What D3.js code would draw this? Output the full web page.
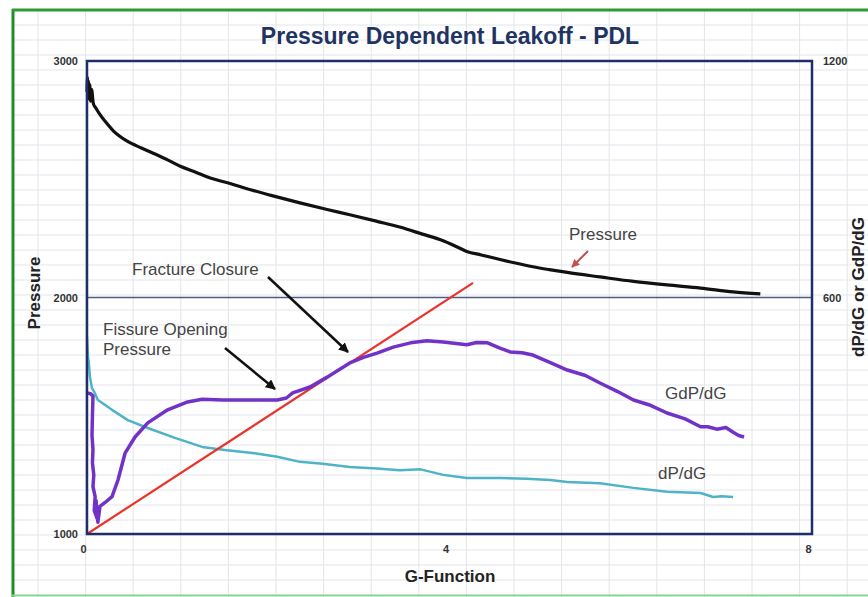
<!DOCTYPE html>
<html>
<head>
<meta charset="utf-8">
<script src="https://cdn.jsdelivr.net/npm/d3@7"></script>
<style>
  body { margin: 0; background: #fff; }
  svg { display: block; font-family: "Liberation Sans", Arial, sans-serif; }
</style>
</head>
<body>
<svg width="868" height="597"></svg>
<script>
// axis ticks
var xTicks = [0, 4, 8];
var leftTicks = [1000, 2000, 3000];
var rightTicks = [600, 1200];

// Pressure (left axis) vs G-function
var pressureG = [0, 0.005, 0.01, 0.015, 0.02, 0.03, 0.04, 0.05, 0.07, 0.1, 0.14, 0.2, 0.29, 0.44, 0.6, 0.73, 0.9, 1.03, 1.2, 1.36, 1.55, 1.72, 2.02, 2.35, 2.65, 2.9, 3.2, 3.45, 3.7, 3.93, 4.05, 4.19, 4.35, 4.48, 4.7, 4.92, 5.1, 5.3, 5.66, 6.03, 6.4, 6.77, 7.13, 7.43];
var pressureP = [2870, 2930, 2850, 2915, 2840, 2900, 2830, 2880, 2820, 2800, 2775, 2745, 2705, 2662, 2632, 2610, 2580, 2555, 2530, 2505, 2485, 2465, 2433, 2400, 2372, 2350, 2322, 2298, 2268, 2240, 2220, 2195, 2180, 2168, 2148, 2130, 2118, 2106, 2087, 2068, 2053, 2040, 2024, 2015];

// G*dP/dG (right axis)
var gdpG = [0, 0.04, 0.066, 0.06, 0.055, 0.066, 0.06, 0.075, 0.066, 0.09, 0.08, 0.11, 0.1, 0.12, 0.143, 0.2, 0.276, 0.342, 0.42, 0.53, 0.67, 0.89, 1.11, 1.27, 1.5, 1.85, 2.1, 2.2, 2.27, 2.46, 2.65, 2.9, 3.05, 3.2, 3.38, 3.57, 3.75, 3.93, 4.05, 4.19, 4.3, 4.42, 4.55, 4.67, 4.8, 4.92, 5.1, 5.3, 5.5, 5.66, 5.85, 6.03, 6.2, 6.4, 6.6, 6.77, 6.85, 6.95, 7.05, 7.13, 7.19, 7.25];
var gdpV = [358, 356, 350, 300, 250, 215, 180, 150, 120, 95, 60, 40, 85, 30, 70, 80, 95, 137, 205, 246, 282, 315, 335, 342, 340, 340, 340, 345, 358, 373, 398, 434, 448, 459, 474, 485, 490, 487, 484, 480, 486, 485, 472, 462, 460, 454, 436, 416, 402, 383, 362, 340, 328, 307, 292, 272, 272, 266, 270, 258, 250, 246];

// dP/dG (right axis)
var dpG = [0, 0.011, 0.022, 0.033, 0.055, 0.08, 0.12, 0.276, 0.45, 0.67, 0.97, 1.27, 1.52, 1.85, 2.1, 2.35, 2.6, 2.9, 3.2, 3.45, 3.68, 3.93, 4.19, 4.56, 4.85, 5.11, 5.3, 5.66, 6.03, 6.4, 6.77, 6.91, 7.0, 7.13];
var dpV = [500, 449, 430, 398, 370, 360, 340, 315, 289, 269, 244, 221, 213, 205, 196, 183, 178, 170, 166, 162, 164, 150, 142, 142, 140, 137, 132, 129, 117, 107, 104, 94, 96, 94];

// closure tangent line through origin
var closureG = [0, 4.26];
var closureV = [0, 637];

var svg = d3.select("svg");
var W = 868, H = 597;

// spreadsheet cell grid behind the chart
var grid = svg.append("g").attr("stroke", "#e3e5ea").attr("stroke-width", 1);
for (var gx = 38; gx < W; gx += 47.6) {
  grid.append("line").attr("x1", gx).attr("x2", gx).attr("y1", 10).attr("y2", H);
}
for (var gy = 10; gy < H; gy += 15) {
  grid.append("line").attr("x1", 13).attr("x2", W).attr("y1", gy).attr("y2", gy);
}

// green selection frame
svg.append("line").attr("x1", 13).attr("x2", 13).attr("y1", 9).attr("y2", H)
  .attr("stroke", "#1f8f24").attr("stroke-width", 3);
svg.append("line").attr("x1", 12).attr("x2", W).attr("y1", 10).attr("y2", 10)
  .attr("stroke", "#2e9a34").attr("stroke-width", 3);
svg.append("line").attr("x1", 12).attr("x2", W).attr("y1", 595.5).attr("y2", 595.5)
  .attr("stroke", "#8fd694").attr("stroke-width", 2);

var plot = {left: 87, right: 812, top: 61, bottom: 534};

var x = d3.scaleLinear().domain([0, 8]).range([plot.left, plot.right]);
var yL = d3.scaleLinear().domain([1000, 3000]).range([plot.bottom, plot.top]);
var yR = d3.scaleLinear().domain([0, 1200]).range([plot.bottom, plot.top]);

// title
svg.append("text").attr("x", 450).attr("y", 44).attr("text-anchor", "middle")
  .attr("font-size", 23).attr("font-weight", "bold").attr("fill", "#1f3462")
  .text("Pressure Dependent Leakoff - PDL");

// major gridline at 2000
svg.append("line")
  .attr("x1", plot.left).attr("x2", plot.right)
  .attr("y1", yL(2000)).attr("y2", yL(2000))
  .attr("stroke", "#4d5d82").attr("stroke-width", 1.5);

// axes (labels only)
var fmt = d3.format("d");
var axL = svg.append("g").attr("transform", "translate(" + (plot.left - 9) + ",0)")
  .call(d3.axisLeft(yL).tickValues(leftTicks).tickFormat(fmt).tickSize(0).tickPadding(0));
var axR = svg.append("g").attr("transform", "translate(" + (plot.right + 11) + ",0)")
  .call(d3.axisRight(yR).tickValues(rightTicks).tickFormat(fmt).tickSize(0).tickPadding(0));
var axB = svg.append("g").attr("transform", "translate(-4," + (plot.bottom + 11) + ")")
  .call(d3.axisBottom(x).tickValues(xTicks).tickFormat(fmt).tickSize(0).tickPadding(0));
[axL, axR, axB].forEach(function(a) {
  a.select(".domain").remove();
  a.selectAll("text").attr("font-size", 11).attr("font-weight", "bold")
    .attr("fill", "#333").attr("font-family", "\"Liberation Sans\", Arial, sans-serif");
});

// axis titles
svg.append("text").attr("transform", "translate(40,293) rotate(-90)")
  .attr("text-anchor", "middle").attr("font-size", 17).attr("font-weight", "bold")
  .attr("fill", "#222").text("Pressure");
svg.append("text").attr("transform", "translate(864,287) rotate(-90)")
  .attr("text-anchor", "middle").attr("font-size", 17).attr("font-weight", "bold")
  .attr("fill", "#222").text("dP/dG or GdP/dG");
svg.append("text").attr("x", 450).attr("y", 582).attr("text-anchor", "middle")
  .attr("font-size", 17).attr("font-weight", "bold").attr("fill", "#222")
  .text("G-Function");

// series
function pts(gs, vs) { return gs.map(function(g, i) { return [g, vs[i]]; }); }

var lineL = d3.line().curve(d3.curveMonotoneX)
  .x(function(d) { return x(d[0]); }).y(function(d) { return yL(d[1]); });
var lineR = d3.line().x(function(d) { return x(d[0]); }).y(function(d) { return yR(d[1]); });

svg.append("path").datum(pts(dpG, dpV)).attr("d", lineR)
  .attr("fill", "none").attr("stroke", "#4fb3c8").attr("stroke-width", 2.5)
  .attr("stroke-linejoin", "round");

svg.append("path").datum(pts(closureG, closureV)).attr("d", lineR)
  .attr("fill", "none").attr("stroke", "#e8342a").attr("stroke-width", 2.2);

svg.append("path").datum(pts(gdpG, gdpV)).attr("d", lineR)
  .attr("fill", "none").attr("stroke", "#7232c8").attr("stroke-width", 3.5)
  .attr("stroke-linejoin", "round");

svg.append("path").datum(pts(pressureG, pressureP)).attr("d", lineL)
  .attr("fill", "none").attr("stroke", "#111").attr("stroke-width", 3.2)
  .attr("stroke-linejoin", "round");

// plot border
svg.append("rect").attr("x", plot.left).attr("y", plot.top)
  .attr("width", plot.right - plot.left).attr("height", plot.bottom - plot.top)
  .attr("fill", "none").attr("stroke", "#1f2d6b").attr("stroke-width", 2.5);

// annotations
var defs = svg.append("defs");
[["headBlack", "#111"], ["headRed", "#c0504d"]].forEach(function(m) {
  defs.append("marker").attr("id", m[0]).attr("viewBox", "0 0 10 10")
    .attr("refX", 9).attr("refY", 5).attr("markerWidth", 4).attr("markerHeight", 4)
    .attr("orient", "auto")
    .append("path").attr("d", "M0,0 L10,5 L0,10 z").attr("fill", m[1]);
});

var notes = [
  {text: "Fracture Closure", x: 132, y: 275},
  {text: "Fissure Opening", x: 103, y: 335},
  {text: "Pressure", x: 103, y: 355},
  {text: "Pressure", x: 569, y: 240},
  {text: "GdP/dG", x: 665, y: 399},
  {text: "dP/dG", x: 658, y: 479}
];
svg.selectAll("text.note").data(notes).enter().append("text")
  .attr("class", "note")
  .attr("x", function(d) { return d.x; }).attr("y", function(d) { return d.y; })
  .attr("font-size", 17).attr("fill", "#444").text(function(d) { return d.text; });

var arrows = [
  {x1: 268, y1: 277, x2: 348, y2: 352, c: "#111", m: "headBlack", w: 2.5},
  {x1: 225, y1: 348, x2: 275, y2: 389, c: "#111", m: "headBlack", w: 2.5},
  {x1: 588, y1: 251, x2: 572, y2: 267, c: "#c0504d", m: "headRed", w: 2}
];
svg.selectAll("line.arrow").data(arrows).enter().append("line")
  .attr("class", "arrow")
  .attr("x1", function(d) { return d.x1; }).attr("y1", function(d) { return d.y1; })
  .attr("x2", function(d) { return d.x2; }).attr("y2", function(d) { return d.y2; })
  .attr("stroke", function(d) { return d.c; })
  .attr("stroke-width", function(d) { return d.w; })
  .attr("marker-end", function(d) { return "url(#" + d.m + ")"; });
</script>
</body>
</html>
